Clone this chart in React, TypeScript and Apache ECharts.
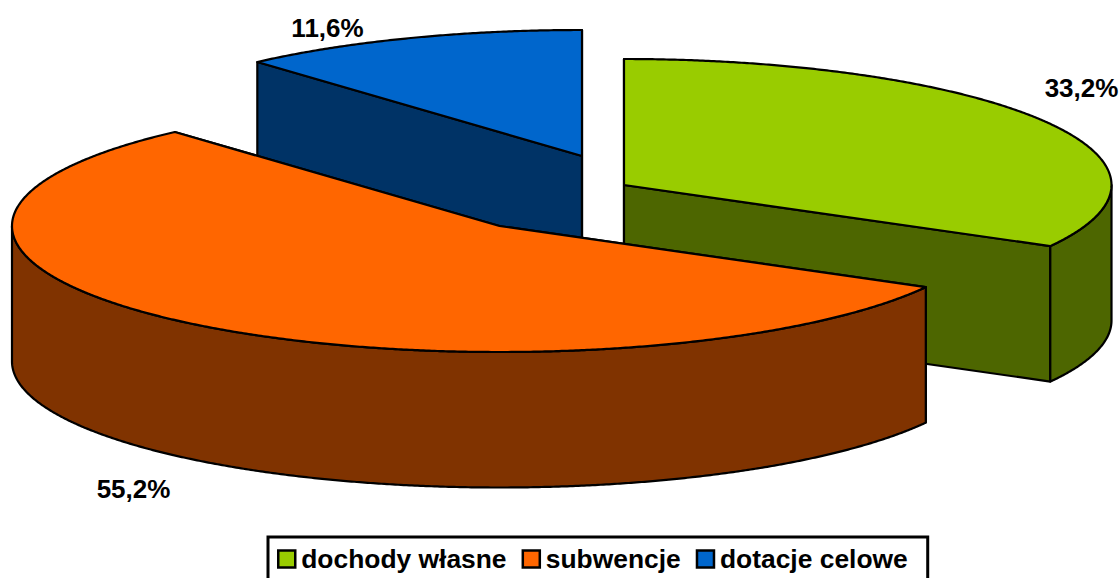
import React, { useEffect, useRef } from "react";
import * as echarts from "echarts";

const categories = ["dochody własne", "subwencje", "dotacje celowe"];
const shares = [33.2, 55.2, 11.6];
const topColors = ["#99CC00", "#FF6600", "#0066CC"];
const wallColors = ["#4D6600", "#803300", "#003366"];

// Layout of the exploded 3D pie (pixels)
const apexes = [[624, 185], [499.5, 226], [582, 156]];
const labelAnchors = [[1081.5, 88], [133.5, 489], [327.5, 28]];
const RX = 487.5;
const RY = 126;
const DEPTH = 135.5;
const START_ANGLE = -90;
const BOUNDARY_NUDGE = [0, -0.5, 0, 0]; // degrees, at each slice boundary
const drawOrder = [0, 2, 1];

const FONT = '"Liberation Sans", Arial, sans-serif';
const total = shares.reduce((a, b) => a + b, 0);

function boundary(i: number): number {
  let acc = 0;
  for (let k = 0; k < i; k++) acc += shares[k];
  return START_ANGLE + (acc / total) * 360 + BOUNDARY_NUDGE[i];
}

function rimPoint(c: number[], deg: number, dy = 0): number[] {
  const a = (deg * Math.PI) / 180;
  return [c[0] + RX * Math.cos(a), c[1] + RY * Math.sin(a) + dy];
}

function arc(c: number[], from: number, to: number, dy = 0): number[][] {
  const n = Math.max(2, Math.ceil(Math.abs(to - from) * 3));
  const pts: number[][] = [];
  for (let j = 0; j <= n; j++) pts.push(rimPoint(c, from + ((to - from) * j) / n, dy));
  return pts;
}

function makeRender(i: number) {
  return (_params: any, api: any) => {
    const value = api.value(0) as number;
    const a0 = boundary(i);
    const a1 = boundary(i + 1);
    const c = apexes[i];
    const edge = { stroke: "#000", lineWidth: 2.2, lineJoin: "round" };
    const poly = (points: number[][], fill: string) => ({
      type: "polygon",
      shape: { points },
      style: { fill, ...edge },
    });
    const children: any[] = [];
    // flat cut faces
    for (const a of [a0, a1]) {
      const p = rimPoint(c, a);
      children.push(
        poly([c, p, [p[0], p[1] + DEPTH], [c[0], c[1] + DEPTH]], wallColors[i])
      );
    }
    // outer wall: only the front half of the rim can be seen
    const w0 = Math.max(a0, 0);
    const w1 = Math.min(a1, 180);
    if (w1 > w0) {
      children.push(
        poly([...arc(c, w0, w1), ...arc(c, w1, w0, DEPTH)], wallColors[i])
      );
    }
    // top
    children.push(poly([c, ...arc(c, a0, a1)], topColors[i]));
    // value label
    children.push({
      type: "text",
      x: labelAnchors[i][0],
      y: labelAnchors[i][1],
      style: {
        text: value.toFixed(1).replace(".", ",") + "%",
        fill: "#000",
        font: `bold 26px ${FONT}`,
        align: "center",
        verticalAlign: "middle",
      },
    });
    return { type: "group", children };
  };
}

export default function App() {
  const ref = useRef<HTMLDivElement>(null);
  useEffect(() => {
    document.body.style.margin = "0";
    const chart = echarts.init(ref.current!, null, { renderer: "svg" });
    chart.setOption({
      animation: false,
      backgroundColor: "#fff",
      legend: {
        data: categories,
        left: 268,
        top: 537,
        orient: "horizontal",
        backgroundColor: "#fff",
        borderColor: "#000",
        borderWidth: 3,
        padding: [9, 20, 12, 9],
        itemWidth: 17,
        itemHeight: 17,
        itemGap: 15,
        icon: "rect",
        selectedMode: false,
        itemStyle: { borderColor: "#000", borderWidth: 2.5 },
        textStyle: {
          fontFamily: FONT,
          fontWeight: "bold",
          fontSize: 26.4,
          color: "#000",
          padding: [0, 0, 0, 1],
        },
      },
      series: drawOrder.map((i) => ({
        type: "custom",
        name: categories[i],
        coordinateSystem: "none",
        itemStyle: { color: topColors[i] },
        data: [[shares[i]]],
        renderItem: makeRender(i),
      })),
    });
    return () => chart.dispose();
  }, []);
  return (
    <div
      ref={ref}
      style={{ position: "absolute", left: 0, top: 0, width: 1120, height: 578 }}
    />
  );
}
